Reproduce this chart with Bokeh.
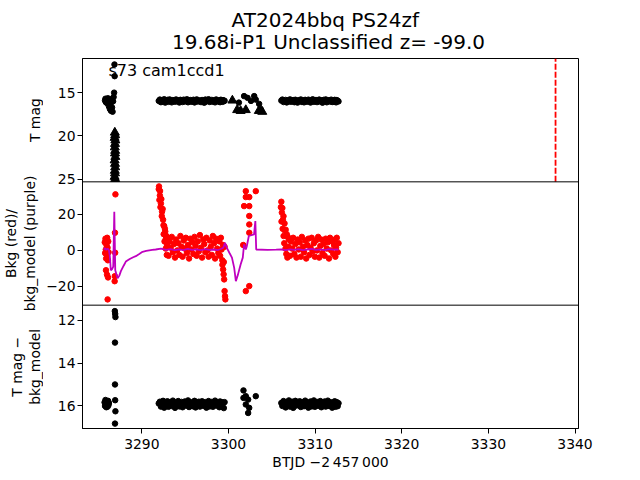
from math import pi
from bokeh.plotting import figure
from bokeh.layouts import row, column
from bokeh.models import Range1d, Span, Label, LinearAxis, FixedTicker
from bokeh.core.properties import value
from bokeh.embed import file_html
from bokeh.resources import INLINE

# ---------------- data ----------------
title_lines = ["AT2024bbq  PS24zf", "19.68i-P1 Unclassified z= -99.0"]
title_y = [19.8, 41.4]          # vertical centres of the two title lines (px from page top)
sector_label = "s73 cam1ccd1"
sector_label_pos = (3286.15, 12.5)
disc_time = 3337.75

x_ticks = [3290, 3300, 3310, 3320, 3330, 3340]
mag_ticks = [15, 20, 25]
bkg_ticks = [-20, 0, 20]
diff_ticks = [12, 14, 16]

# axis limits of each panel (bottom, top)
x_lim = (3283.15, 3340.4)
mag_lim = (25.29, 11.06)
bkg_lim = (-30.4, 38.06)
diff_lim = (17.08, 11.28)

# y-axis label lines: text, centre x (px in the label strip), panel index (0 = bottom)
ylabel_lines = ["T mag", "Bkg (red)/", "bkg_model (purple)", "T mag \u2212", "bkg_model"]
ylabel_x = [34.5, 10.7, 29.2, 16.9, 34.5]
ylabel_panel = [2, 1, 1, 0, 0]

# early cluster
t1A = [3285.75, 3285.8, 3285.85, 3285.9, 3285.96, 3286.02, 3286.08, 3286.14, 3286.2, 3286.26,
       3286.32, 3286.38, 3286.44, 3286.5, 3286.56, 3286.62, 3286.68, 3286.74, 3286.8]
mag1A = [15.9, 15.7, 16.1, 15.8, 16.2, 15.95, 15.65, 16.15, 16.6, 15.85,
         16.9, 16.3, 17.1, 15.75, 16.7, 17.2, 16.0, 15.5, 15.0]
t1E = [3286.84, 3286.86]
mag1E = [11.75, 13.1]
tTri = [3286.88, 3286.92, 3286.86, 3286.94, 3286.9, 3286.88, 3286.92, 3286.9,
        3286.94, 3286.86, 3286.9, 3286.92, 3286.88, 3286.9, 3286.86, 3286.92]
magTri = [19.6, 19.9, 20.2, 20.5, 20.9, 21.3, 21.7, 22.0,
          22.4, 22.8, 23.2, 23.6, 24.0, 24.3, 24.7, 24.95]

t3A = [3285.7, 3285.75, 3285.8, 3285.85, 3285.9, 3285.95, 3286.0, 3286.05, 3286.1, 3286.15, 3286.2]
mag3A = [15.85, 16.02, 15.74, 15.95, 16.08, 15.8, 15.92, 16.05, 15.78, 15.98, 15.88]
t3E = [3286.88, 3286.92, 3286.95, 3286.9, 3286.9, 3286.92, 3286.95, 3286.9]
mag3E = [11.56, 11.69, 11.84, 13.04, 15.01, 15.75, 16.27, 16.85]

t2A = [3285.72, 3285.76, 3285.8, 3285.84, 3285.88, 3285.92, 3285.96, 3286.0, 3286.04, 3286.08,
       3286.12, 3286.16, 3285.86, 3285.98, 3286.05, 3286.1,
       3286.95, 3286.9, 3286.92, 3286.88, 3286.86]
bkgA = [4.5, -1.5, 6.5, 0.5, -4.5, 3.0, -2.5, 7.0, 1.5, -5.5,
        5.0, -1.0, -11.0, -13.5, -27.2, -15.0,
        31.1, 9.8, -1.3, -14.3, -17.1]

# first orbit band
tB = [3291.95, 3292.08, 3292.20, 3292.33, 3292.45, 3292.58, 3292.70, 3292.83,
      3292.95, 3293.08, 3293.20, 3293.33, 3293.45, 3293.58, 3293.70, 3293.83,
      3293.95, 3294.08, 3294.20, 3294.33, 3294.45, 3294.58, 3294.70, 3294.83,
      3294.95, 3295.08, 3295.20, 3295.33, 3295.45, 3295.58, 3295.70, 3295.83,
      3295.95, 3296.08, 3296.20, 3296.33, 3296.45, 3296.58, 3296.70, 3296.83,
      3296.95, 3297.08, 3297.20, 3297.33, 3297.45, 3297.58, 3297.70, 3297.83,
      3297.95, 3298.08, 3298.20, 3298.33, 3298.45, 3298.58, 3298.70, 3298.83,
      3298.95, 3299.03, 3299.12, 3299.20, 3299.29, 3299.37, 3299.46, 3299.55]
mag1B = [15.95, 15.80, 16.10, 15.88, 16.02, 15.76, 16.15, 15.92,
         15.84, 16.06, 15.78, 15.98, 16.12, 15.86, 15.94, 16.04,
         15.79, 16.00, 15.90, 16.14, 15.83, 15.96, 16.08, 15.81,
         16.02, 15.87, 15.77, 16.11, 15.93, 15.85, 16.05, 15.99,
         15.82, 16.13, 15.91, 15.78, 16.03, 15.89, 15.97, 16.09,
         15.85, 15.95, 16.16, 15.80, 16.01, 15.92, 15.76, 16.07,
         15.98, 15.84, 16.04, 15.90, 16.12, 15.79, 15.95, 16.02,
         15.88, 16.10, 15.82, 15.97, 16.06, 15.86, 16.00, 15.93]
bkgB = [34.0, 30.5, 26.0, 21.5, 17.0, 13.5, 10.5, 8.0,
        6.5, -3.0, 5.0, 1.5, 7.5, -1.0, 3.5, -4.0,
        6.0, 0.0, 4.0, -2.5, 8.0, 2.0, -3.5, 5.5,
        1.0, 7.0, -1.5, 3.0, -4.5, 6.5, 0.5, 4.5,
        -2.0, 7.5, 2.5, -3.0, 5.0, -0.5, 8.5, 1.5,
        -4.0, 6.0, 3.5, -1.0, 7.0, 0.0, -3.5, 5.5,
        2.0, -2.5, 8.0, 4.0, -4.5, 6.5, 1.0, -1.5,
        5.0, -3.0, 7.0, 0.5, -5.5, 3.0, -6.5, 2.0]
mag3B = [15.90, 15.82, 16.05, 15.95, 15.78, 16.10, 15.88, 15.99,
         15.80, 16.06, 15.92, 15.84, 16.02, 15.77, 15.96, 16.11,
         15.86, 15.93, 15.79, 16.04, 15.90, 15.83, 16.08, 15.97,
         15.81, 16.00, 15.89, 15.76, 16.07, 15.94, 15.85, 16.03,
         15.91, 15.78, 16.09, 15.87, 15.98, 15.82, 16.05, 15.93,
         15.80, 16.01, 15.90, 15.84, 16.10, 15.95, 15.79, 16.04,
         15.88, 15.83, 16.06, 15.92, 15.77, 16.00, 15.86, 15.96,
         16.08, 15.81, 15.94, 16.03, 15.85, 15.90, 16.12, 15.84]
tBs = [3291.98, 3292.03, 3292.1, 3292.15, 3292.25, 3292.3, 3292.4, 3292.5,
       3292.52, 3292.62, 3292.66, 3292.75, 3292.78, 3292.88, 3292.9,
       3299.3, 3299.38, 3299.44, 3299.5, 3299.55, 3299.6, 3299.64]
bkgBs = [35.5, 28.0, 33.0, 24.0, 28.5, 19.0, 23.0, 14.0,
         9.0, 5.0, 12.0, 1.0, 6.5, -2.5, 3.0,
         -8.0, -10.6, -13.3, -16.1, -22.6, -25.4, -27.2]

# gap cluster
t1C = [3301.2, 3301.8, 3302.2, 3302.6, 3302.97, 3303.15, 3303.54, 3303.7]
mag1C = [16.15, 15.4, 15.6, 15.95, 15.4, 15.8, 16.3, 16.9]
tTriC = [3300.45, 3301.0, 3301.4, 3302.0, 3303.5, 3303.9]
magTriC = [15.9, 17.0, 17.1, 17.0, 17.1, 17.2]
t2C = [3302.0, 3303.15, 3302.0, 3302.4, 3301.8, 3302.4, 3302.4, 3302.4, 3302.4, 3302.0, 3302.4, 3301.7]
bkgC = [32.9, 32.9, 29.6, 29.6, 24.6, 24.6, 19.1, 14.4, 9.8, -22.6, -19.8, 3.0]
t3C = [3301.73, 3302.0, 3301.73, 3302.27, 3303.15, 3302.0, 3302.39, 3302.27]
mag3C = [15.29, 15.56, 15.64, 15.72, 15.56, 15.95, 16.11, 16.35]

# second orbit band
tD = [3306.10, 3306.22, 3306.35, 3306.47, 3306.60, 3306.72, 3306.85, 3306.97,
      3307.10, 3307.22, 3307.35, 3307.47, 3307.60, 3307.72, 3307.85, 3307.97,
      3308.10, 3308.22, 3308.35, 3308.47, 3308.60, 3308.72, 3308.85, 3308.97,
      3309.10, 3309.22, 3309.35, 3309.47, 3309.60, 3309.72, 3309.85, 3309.97,
      3310.10, 3310.22, 3310.35, 3310.47, 3310.60, 3310.72, 3310.85, 3310.97,
      3311.10, 3311.22, 3311.35, 3311.47, 3311.60, 3311.72, 3311.85, 3311.97,
      3312.10, 3312.18, 3312.26, 3312.34, 3312.42, 3312.50, 3312.60, 3312.70]
mag1D = [15.92, 15.80, 16.08, 15.97, 15.84, 16.13, 15.89, 16.01,
         15.78, 16.05, 15.93, 15.86, 16.10, 15.82, 15.99, 16.15,
         15.87, 15.96, 15.79, 16.07, 15.91, 16.12, 15.83, 16.00,
         16.04, 15.81, 15.95, 16.14, 15.88, 15.77, 16.06, 15.92,
         15.85, 16.09, 15.98, 15.80, 16.03, 15.90, 16.16, 15.84,
         15.96, 15.78, 16.11, 15.93, 15.87, 16.02, 15.81, 16.08,
         15.90, 16.05, 15.83, 15.99, 16.12, 15.86, 15.94, 16.01]
bkgD = [27.0, 23.5, 19.0, 15.0, 11.5, 9.0, 7.5, 6.0,
        -3.0, 5.0, 1.0, 7.0, -2.0, 3.5, -4.0, 6.0,
        0.5, 4.5, -3.5, 7.5, 2.0, -1.0, 5.5, -4.5,
        3.0, 6.5, -2.5, 1.5, 7.0, -0.5, 4.0, -3.5,
        5.5, 0.0, 7.5, -4.0, 2.5, 6.0, -1.5, 3.5,
        -3.0, 6.5, 1.0, 4.5, -4.5, 7.0, 0.0, 5.0,
        -2.0, 3.0, 6.0, -3.5, 1.5, 7.0, -1.0, 4.0]
mag3D = [15.88, 16.02, 15.79, 15.95, 16.09, 15.84, 15.97, 15.76,
         16.05, 15.90, 15.82, 16.11, 15.93, 15.78, 16.00, 15.87,
         15.96, 15.80, 16.07, 15.91, 15.85, 16.03, 15.77, 15.99,
         15.86, 16.10, 15.94, 15.81, 16.04, 15.89, 15.76, 16.06,
         15.92, 15.83, 16.01, 15.97, 15.79, 16.08, 15.88, 15.95,
         15.81, 16.05, 15.90, 15.77, 16.02, 15.93, 15.85, 16.10,
         15.98, 15.87, 15.80, 16.06, 15.91, 15.84, 16.03, 15.89]
tDs = [3306.05, 3306.12, 3306.16, 3306.25, 3306.28, 3306.36, 3306.44, 3306.5,
       3306.58, 3306.68, 3306.8, 3306.92]
bkgDs = [24.0, 16.0, 21.0, 12.0, 17.0, 8.0, 4.0, 11.0, 1.0, -2.0, -4.0, 2.0]

# background model (purple line)
t_model = [3285.60, 3285.75, 3285.90, 3286.05, 3286.20, 3286.30, 3286.42, 3286.55, 3286.70, 3286.82,
           3286.93, 3287.05, 3287.20, 3287.40, 3287.58, 3287.90, 3288.15, 3288.60, 3289.00, 3289.30,
           3289.70, 3290.08, 3290.50, 3290.85, 3291.20, 3291.60, 3292.20, 3292.80, 3293.30, 3293.80,
           3294.30, 3294.80, 3295.30, 3295.80, 3296.30, 3296.80, 3297.30, 3297.80, 3298.30, 3298.80,
           3299.10, 3299.40, 3299.60, 3299.80, 3300.10, 3300.40, 3300.66, 3300.85, 3301.10, 3301.40,
           3301.65, 3301.80, 3302.00, 3302.10, 3302.35, 3302.95, 3303.10, 3303.20, 3304.50, 3305.50,
           3306.10, 3306.60, 3307.10, 3307.60, 3308.10, 3308.60, 3309.10, 3309.60, 3310.10, 3310.60,
           3311.10, 3311.60, 3312.10, 3312.70]
bkg_model = [0.5, 1.2, 0.3, 1.0, 0.2, -3.0, -11.0, -10.5, -9.0, 21.5,
             -11.0, -13.0, -15.5, -14.0, -11.5, -8.5, -6.2, -4.8, -3.8, -3.2,
             -2.0, -0.8, -0.3, 0.0, 0.3, 0.5, 1.0, 0.3, 0.7, 0.1,
             0.6, 0.2, 0.8, 0.3, 0.6, 0.1, 0.7, 0.3, 0.5, 0.2,
             0.8, 1.5, 4.2, 1.5, -1.3, -4.0, -9.7, -17.1, -13.3, -7.8,
             -4.0, 3.3, 0.5, 2.0, 8.0, 8.9, 16.3, 0.5, 0.3, 0.4,
             0.5, 0.2, 0.6, 0.3, 0.7, 0.2, 0.5, 0.8, 0.3, 0.6,
             0.2, 0.7, 0.4, 0.5]

# ---------------- plotting ----------------
FONT = "DejaVu Sans"
FS = "13.9px"
N_PANELS = 3
STRIP_W = 43
LEFT = 80            # frame left edge on the page
FRAME_W, FRAME_H = 496, 370
RIGHT_B = 40
TOP_H = 58           # title strip height
BOTTOM_B = 45
TOTAL_W = LEFT + FRAME_W + RIGHT_B


def stacked_range(lim, k):
    """Range over the whole frame so that panel k (0 = bottom) shows lim."""
    lo, hi = lim
    span = hi - lo
    return Range1d(lo - k * span, hi + (N_PANELS - 1 - k) * span)


def panel_pos(v, lim, k):
    lo, hi = lim
    return k + (v - lo) / (hi - lo)


def bare(fig):
    fig.grid.visible = False
    fig.outline_line_color = None
    return fig


p = figure(frame_width=FRAME_W, frame_height=FRAME_H, x_range=Range1d(*x_lim),
           y_range=Range1d(0, N_PANELS), output_backend="svg", toolbar_location=None,
           y_axis_location=None, min_border_left=LEFT - STRIP_W, min_border_right=RIGHT_B,
           min_border_top=0, min_border_bottom=BOTTOM_B)
p.extra_y_ranges = {"mag": stacked_range(mag_lim, 2),
                    "bkg": stacked_range(bkg_lim, 1),
                    "diff": stacked_range(diff_lim, 0)}
p.grid.visible = False
p.outline_line_color = "black"
p.outline_line_width = 1

# left axis carrying the tick marks of all three panels
tick_pos, tick_txt = [], {}
for ticks, lim, k in [(mag_ticks, mag_lim, 2), (bkg_ticks, bkg_lim, 1), (diff_ticks, diff_lim, 0)]:
    for v in ticks:
        pos = panel_pos(v, lim, k)
        tick_pos.append(pos)
        tick_txt[pos] = str(v).replace("-", "\u2212")
yax = LinearAxis(ticker=FixedTicker(ticks=tick_pos), major_label_overrides=tick_txt)
p.add_layout(yax, "left")

for ax in p.axis:
    ax.axis_line_color = "black"
    ax.major_tick_in = 0
    ax.major_tick_out = 5
    ax.major_tick_line_color = "black"
    ax.minor_tick_line_color = None
    ax.major_label_text_font = FONT
    ax.major_label_text_font_size = FS
    ax.major_label_text_color = "black"
    ax.major_label_standoff = 2
    ax.axis_label_text_font = FONT
    ax.axis_label_text_font_size = FS
    ax.axis_label_text_font_style = "normal"
    ax.axis_label_text_color = "black"
    ax.axis_label_standoff = 2
p.xaxis.major_label_standoff = 5
p.xaxis.ticker = x_ticks
p.xaxis.axis_label = "BTJD \u22122\u2009457\u2009000"

# panel separators
for k in range(1, N_PANELS):
    p.add_layout(Span(location=k, dimension="width", line_color="black", line_width=1))

# panel 1: T mag
for tx, my in [(t1A, mag1A), (t1E, mag1E), (tB, mag1B), (t1C, mag1C), (tD, mag1D)]:
    p.scatter(tx, my, size=5.5, color="black", y_range_name="mag")
for tx, my in [(tTri, magTri), (tTriC, magTriC)]:
    p.scatter(tx, my, marker="triangle", size=9, color="black", y_range_name="mag")
p.segment(x0=[disc_time], y0=[mag_lim[0]], x1=[disc_time], y1=[mag_lim[1]], line_color="red",
          line_dash="6 2", line_width=1.8, y_range_name="mag")
p.add_layout(Label(x=sector_label_pos[0], y=sector_label_pos[1], y_range_name="mag",
                   text=sector_label, text_font=FONT, text_font_size="16px",
                   text_baseline="alphabetic", text_align="left", text_color="black"))

# panel 2: background
for tx, vy in [(t2A, bkgA), (tB, bkgB), (tBs, bkgBs), (t2C, bkgC), (tD, bkgD), (tDs, bkgDs)]:
    p.scatter(tx, vy, size=5.5, color="red", y_range_name="bkg")
p.line(t_model, bkg_model, line_color="#bf00bf", line_width=1.8, y_range_name="bkg")

# panel 3: T mag - bkg_model
for tx, my in [(t3A, mag3A), (t3E, mag3E), (tB, mag3B), (t3C, mag3C), (tD, mag3D)]:
    p.scatter(tx, my, size=5.5, color="black", y_range_name="diff")

# strip on the left carrying the y-axis labels (same vertical layout as the plot)
strip = bare(figure(frame_width=STRIP_W, frame_height=FRAME_H, x_range=Range1d(0, STRIP_W),
                    y_range=Range1d(0, N_PANELS), output_backend="svg", toolbar_location=None,
                    x_axis_location=None, y_axis_location=None, min_border_left=0,
                    min_border_right=0, min_border_top=0, min_border_bottom=BOTTOM_B))
strip.text(x=ylabel_x, y=[k + 0.5 for k in ylabel_panel], text=ylabel_lines, angle=pi / 2,
           text_align="center", text_baseline="middle", text_font=value(FONT),
           text_font_size=FS, text_color="black")

# title strip on top
head = bare(figure(frame_width=TOTAL_W, frame_height=TOP_H, x_range=Range1d(0, TOTAL_W),
                   y_range=Range1d(TOP_H, 0), output_backend="svg", toolbar_location=None,
                   x_axis_location=None, y_axis_location=None, min_border_left=0,
                   min_border_right=0, min_border_top=0, min_border_bottom=0))
head.text(x=[LEFT + FRAME_W / 2] * 2, y=title_y, text=title_lines,
          text_align="center", text_baseline="middle", text_font=value(FONT),
          text_font_size="20px", text_color="black")

layout = column(head, row(strip, p, spacing=0), spacing=0)
open("out.html", "w").write(file_html(layout, INLINE))
